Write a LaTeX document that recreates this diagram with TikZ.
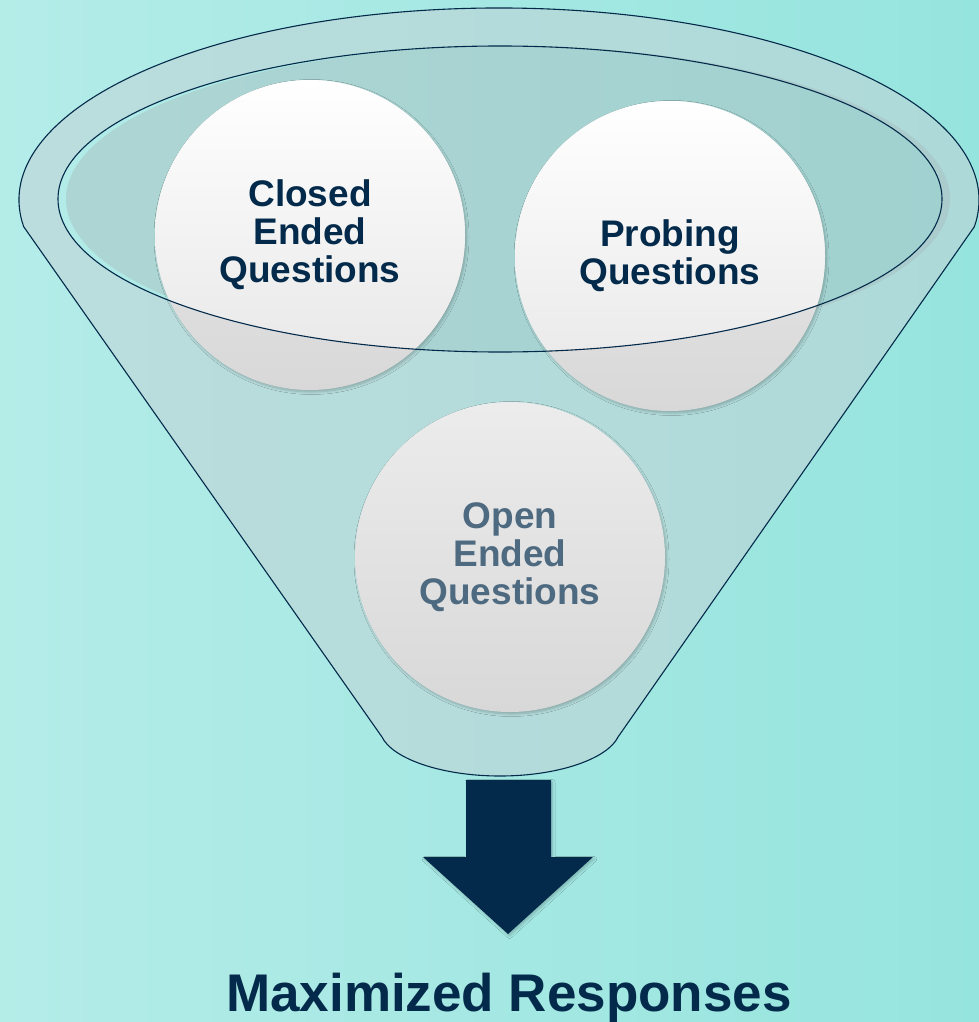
\documentclass[tikz,border=0pt]{standalone}
\usepackage{fontspec}
\setmainfont{Liberation Sans}
\usetikzlibrary{shadows.blur}
\definecolor{bgleft}{HTML}{B4ECE8}
\definecolor{bgright}{HTML}{96E4DE}
\definecolor{navy}{HTML}{032A4A}
\definecolor{slate}{HTML}{4E6A80}
\definecolor{bodytint}{HTML}{C4D0D4}
\definecolor{bowltint}{HTML}{AAC0C2}
\definecolor{balltop}{HTML}{ECECEC}
\definecolor{ballbot}{HTML}{D8D8D8}
\definecolor{whitebot}{HTML}{E6E6E6}

\begin{document}
\begin{tikzpicture}[x=1pt,y=-1pt,
  rim/.style={draw=navy, line width=1.1pt},
  softshadow/.style={blur shadow={shadow blur steps=6, shadow xshift=1.5pt,
      shadow yshift=-2pt, shadow blur radius=2.5pt, shadow opacity=22}},
  qball/.style={circle, minimum size=310pt, inner sep=0pt,
    top color=balltop, bottom color=ballbot, draw=none, softshadow},
  qtext/.style={align=center, inner sep=0pt,
    font=\bfseries\fontsize{37}{38}\selectfont, text=navy},
]
% page and background gradient
\useasboundingbox (0,0) rectangle (979,1022);
\shade[left color=bgleft, right color=bgright] (0,0) rectangle (979,1022);

% funnel body with the bowl opening left out
\path[fill=bodytint, fill opacity=0.5, even odd rule]
  (23.7,226.7) arc[start angle=172, end angle=368, x radius=480, y radius=192]
  -- (618,737) .. controls (608,758) and (560,776) .. (500,776)
  .. controls (440,776) and (392,758) .. (382,737) -- cycle
  (500,199) ellipse [x radius=442, y radius=153];

% bowl surface, set slightly off the rim line
\fill[bowltint, fill opacity=0.5] (508,199) ellipse [x radius=442, y radius=153];

% funnel outline
\draw[rim, line join=round]
  (23.7,226.7) arc[start angle=172, end angle=368, x radius=480, y radius=192]
  -- (618,737) .. controls (608,758) and (560,776) .. (500,776)
  .. controls (440,776) and (392,758) .. (382,737) -- cycle;

% question balls
\node[qball] (closed) at (310,235) {};
\node[qball] (probing) at (670,256) {};
\node[qball] (open) at (510,557) {};

% the parts of the balls inside the bowl are lit
\begin{scope}
  \clip (500,199) ellipse [x radius=442, y radius=153];
  \shade[top color=white, middle color=white, bottom color=whitebot]
    (closed.center) circle[radius=155];
  \shade[top color=white, middle color=white, bottom color=whitebot]
    (probing.center) circle[radius=155];
\end{scope}

\node[qtext] (closedlabel) at (closed.center) {Closed\\Ended\\Questions};
\node[qtext] (probinglabel) at (probing.center) {Probing\\Questions};
\node[qtext, text=slate] (openlabel) at (open.center) {Open\\Ended\\Questions};

% bowl rim line over the balls
\draw[rim] (500,199) ellipse [x radius=442, y radius=153];

% output arrow
\fill[navy, softshadow]
  (466,780) -- (551,780) -- (551,857) -- (593,857) -- (508,934)
  -- (423,857) -- (466,857) -- cycle;

\node[anchor=base, inner sep=0pt, font=\bfseries\fontsize{53}{60}\selectfont, text=navy]
  (result) at (509,1011) {Maximized Responses};
\end{tikzpicture}
\end{document}
